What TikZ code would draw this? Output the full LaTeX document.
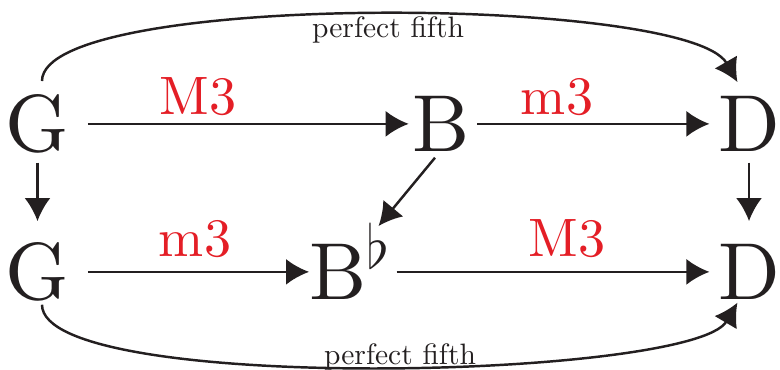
\documentclass[tikz,border=0pt]{standalone}
\usepackage{xcolor}
\usepackage{tikz}
\usetikzlibrary{arrows.meta}
\DeclareFontShape{TU}{lmr}{m}{n}{<-> \UnicodeFontFile{lmroman10-regular}{\UnicodeFontTeXLigatures}}{}
\definecolor{inkc}{HTML}{231F20}
\definecolor{redc}{HTML}{E41E26}

\begin{document}
\begin{tikzpicture}[
  note/.style={anchor=base, inner sep=0, text=inkc, text height=16pt, text depth=0pt,
    font=\fontsize{23}{26}\selectfont},
  interval/.style={anchor=base, inner sep=0, text=redc, font=\fontsize{15.4}{18}\selectfont},
  fifthlab/.style={anchor=base, inner sep=0, text=inkc, font=\fontsize{8.4}{10}\selectfont},
  link/.style={-{Latex[length=0.23cm,width=0.26cm]}, line width=0.7pt, draw=inkc},
]
  \useasboundingbox (0,0) rectangle (7.8,3.7);
  % notes
  \node[note] (Gt) at (0.375,2.18) {G};
  \node[note] (Bt) at (4.41,2.18) {B};
  \node[note] (Dt) at (7.49,2.18) {D};
  \node[note] (Gb) at (0.375,0.70) {G};
  \node[note, anchor=base west] (Bf) at (3.09,0.70) {B$^\flat$};
  \node[note] (Db) at (7.49,0.70) {D};
  % intervals
  \node[interval] (M3t) at (1.98,2.55) {M3};
  \node[interval] (m3t) at (5.57,2.55) {m3};
  \node[interval] (m3b) at (1.95,1.13) {m3};
  \node[interval] (M3b) at (5.67,1.13) {M3};
  \node[fifthlab] (pft) at (3.88,3.32) {perfect fifth};
  \node[fifthlab] (pfb) at (4.00,0.05) {perfect fifth};
  % arrows
  \draw[link, shorten <=0.18cm, shorten >=0.03cm] (Gt.east) -- (Bt.west);
  \draw[link, shorten <=0.07cm, shorten >=0.08cm] (Bt.east) -- (Dt.west);
  \draw[link, shorten <=0.18cm] (Gb.east) -- (Bf.west);
  \draw[link, shorten <=0.04cm, shorten >=0.08cm] (Bf.east) -- (Db.west);
  \draw[link, shorten <=0.1cm, shorten >=0.22cm] (Gt.south) -- (Gb.north);
  \draw[link, shorten <=0.1cm, shorten >=0.22cm] (Dt.south) -- (Db.north);
  \draw[link] ([shift={(-0.06,-0.05)}]Bt.south) -- ([shift={(-0.14,0.17)}]Bf.north east);
  \draw[link] ([shift={(0.045,0.14)}]Gt.north) .. controls +(0,0.9) and +(-0.5,0.87) .. ([shift={(0.2,0.13)}]Dt.north west);
  \draw[link] ([shift={(0.045,-0.04)}]Gb.south) .. controls +(0,-0.9) and +(-0.45,-0.765) .. ([shift={(0.2,-0.02)}]Db.south west);
\end{tikzpicture}
\end{document}
